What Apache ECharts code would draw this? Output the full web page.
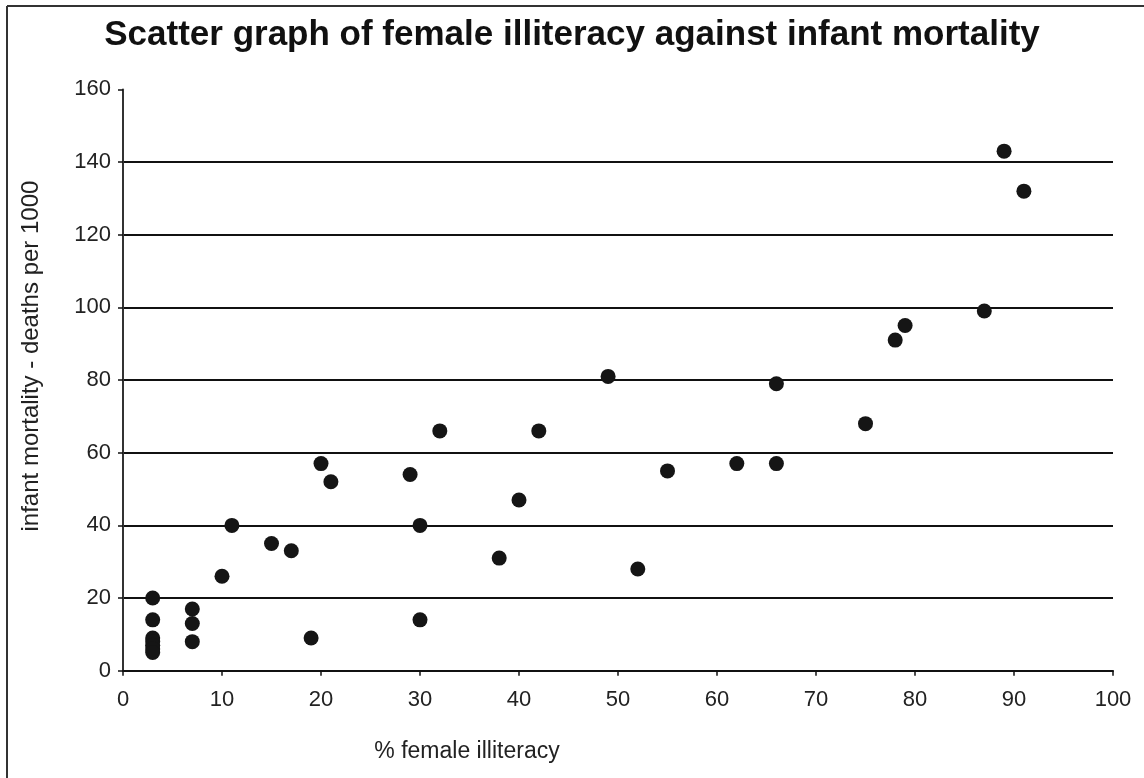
<!DOCTYPE html>
<html>
<head>
<meta charset="utf-8">
<script src="https://cdn.jsdelivr.net/npm/echarts@6/dist/echarts.min.js"></script>
<style>
html,body{margin:0;padding:0;background:#fff;}
#chart{width:1144px;height:778px;}
</style>
</head>
<body>
<div id="chart"></div>
<script>
const titleText = "Scatter graph of female illiteracy against infant mortality";
const xAxisTitle = "% female illiteracy";
const yAxisTitle = "infant mortality - deaths per 1000";
const femaleIlliteracy = [3,3,3,3,3,3,3, 7,7,7, 10,11,15,17,19,20,21, 29,30,30,32,38,40,42, 49,52,55,62,66,66,75, 78,79,87,89,91];
const infantMortality  = [20,14,9,8,7,6,5, 17,13,8, 26,40,35,33,9,57,52, 54,40,14,66,31,47,66, 81,28,55,57,79,57,68, 91,95,99,143,132];
const xTicks = [0,10,20,30,40,50,60,70,80,90,100];
const yTicks = [0,20,40,60,80,100,120,140,160];

const points = femaleIlliteracy.map((x, i) => [x, infantMortality[i]]);
const gridColors = yTicks.map((v, i) => (i === 0 || i === yTicks.length - 1) ? 'rgba(0,0,0,0)' : '#111');
const FONT = 'Liberation Sans, Arial, sans-serif';

const chart = echarts.init(document.getElementById('chart'), null, {renderer: 'canvas'});
chart.setOption({
  backgroundColor: '#fff',
  animation: false,
  title: {
    text: titleText,
    left: 'center',
    top: 13,
    textStyle: {fontFamily: FONT, fontSize: 35, fontWeight: 'bold', color: '#111'}
  },
  grid: {left: 123, right: 31, top: 89.4, bottom: 107.3, containLabel: false},
  xAxis: {
    type: 'value',
    min: xTicks[0], max: xTicks[xTicks.length - 1], interval: 10,
    name: xAxisTitle,
    nameLocation: 'middle',
    nameGap: 69,
    nameTextStyle: {fontFamily: FONT, fontSize: 23, color: '#222', padding: [0, 302, 0, 0]},
    axisLine: {show: true, onZero: false, lineStyle: {color: '#111', width: 2}},
    axisTick: {show: true, inside: false, length: 5, lineStyle: {color: '#111', width: 1.5}},
    axisLabel: {fontFamily: FONT, fontSize: 22, color: '#222', margin: 18},
    splitLine: {show: false}
  },
  yAxis: {
    type: 'value',
    min: yTicks[0], max: yTicks[yTicks.length - 1], interval: 20,
    name: yAxisTitle,
    nameLocation: 'middle',
    nameGap: 80,
    nameRotate: 90,
    nameTextStyle: {fontFamily: FONT, fontSize: 24, color: '#222', padding: [0, 0, 0, 48]},
    axisLine: {show: true, onZero: false, lineStyle: {color: '#333', width: 2}},
    axisTick: {show: true, inside: false, length: 5, lineStyle: {color: '#111', width: 1.5}},
    axisLabel: {fontFamily: FONT, fontSize: 22, color: '#222', margin: 12},
    splitLine: {show: true, lineStyle: {color: gridColors, width: 2}}
  },
  graphic: [
    {type: 'line', shape: {x1: 7, y1: 6, x2: 1144, y2: 6}, style: {stroke: '#333', lineWidth: 2}, silent: true},
    {type: 'line', shape: {x1: 7, y1: 6, x2: 7, y2: 778}, style: {stroke: '#333', lineWidth: 2}, silent: true}
  ],
  series: [{
    type: 'scatter',
    data: points,
    symbol: 'circle',
    symbolSize: 15,
    itemStyle: {color: '#151515', opacity: 1},
    z: 5
  }]
});
</script>
</body>
</html>
